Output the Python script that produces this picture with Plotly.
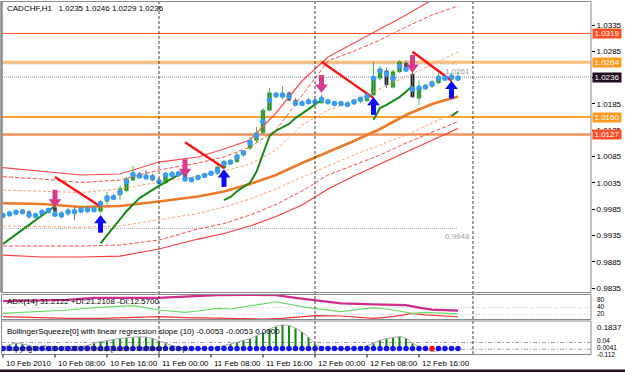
import plotly.graph_objects as go

W, H = 625, 372

# ---------------- data ----------------
bars = list(range(71))
opens = [0.9972, 0.9974, 0.9976, 0.9980, 0.9980, 0.9974, 0.9974, 0.9978, 0.9988, 0.9978,
         0.9976, 0.9981, 0.9981, 0.9985, 0.9983, 0.9981, 1.0000, 1.0008, 1.0012, 1.0020,
         1.0040, 1.0053, 1.0048, 1.0048, 1.0040, 1.0035, 1.0052, 1.0050, 1.0052, 1.0042,
         1.0042, 1.0046, 1.0050, 1.0053, 1.0063, 1.0072, 1.0075, 1.0088, 1.0101, 1.0116,
         1.0130, 1.0173, 1.0204, 1.0198, 1.0206, 1.0192, 1.0187, 1.0187, 1.0189, 1.0187,
         1.0192, 1.0189, 1.0186, 1.0186, 1.0185, 1.0190, 1.0191, 1.0202, 1.0234, 1.0248,
         1.0217, 1.0246, 1.0263, 1.0242, 1.0196, 1.0215, 1.0219, 1.0225, 1.0238, 1.0232,
         1.0235]
closes = [0.9974, 0.9976, 0.9980, 0.9979, 0.9974, 0.9973, 0.9978, 0.9982, 0.9980, 0.9974,
          0.9982, 0.9980, 0.9987, 0.9984, 0.9986, 0.9999, 1.0010, 1.0007, 1.0024, 1.0043,
          1.0054, 1.0048, 1.0046, 1.0040, 1.0036, 1.0052, 1.0051, 1.0053, 1.0042, 1.0041,
          1.0046, 1.0050, 1.0054, 1.0065, 1.0073, 1.0075, 1.0088, 1.0094, 1.0116, 1.0130,
          1.0173, 1.0206, 1.0200, 1.0204, 1.0192, 1.0187, 1.0186, 1.0191, 1.0190, 1.0195,
          1.0189, 1.0186, 1.0187, 1.0184, 1.0190, 1.0194, 1.0202, 1.0234, 1.0251, 1.0221,
          1.0246, 1.0265, 1.0251, 1.0198, 1.0215, 1.0217, 1.0227, 1.0238, 1.0234, 1.0236,
          1.0236]
highs = [0.9978, 0.9980, 0.9983, 0.9983, 0.9983, 0.9978, 0.9981, 0.9987, 0.9993, 0.9981,
         0.9987, 0.9989, 0.9991, 0.9991, 0.9991, 1.0002, 1.0018, 1.0014, 1.0029, 1.0046,
         1.0067, 1.0055, 1.0059, 1.0052, 1.0044, 1.0055, 1.0057, 1.0057, 1.0055, 1.0046,
         1.0050, 1.0054, 1.0057, 1.0069, 1.0078, 1.0080, 1.0094, 1.0097, 1.0122, 1.0141,
         1.0177, 1.0215, 1.0208, 1.0219, 1.0209, 1.0196, 1.0192, 1.0196, 1.0194, 1.0202,
         1.0194, 1.0190, 1.0190, 1.0189, 1.0192, 1.0198, 1.0206, 1.0265, 1.0257, 1.0253,
         1.0250, 1.0268, 1.0268, 1.0246, 1.0230, 1.0223, 1.0230, 1.0244, 1.0240, 1.0244,
         1.0246]
lows = [0.9968, 0.9970, 0.9974, 0.9976, 0.9966, 0.9968, 0.9972, 0.9977, 0.9976, 0.9968,
        0.9972, 0.9964, 0.9980, 0.9978, 0.9980, 0.9978, 0.9993, 1.0002, 1.0002, 1.0017,
        1.0038, 1.0044, 1.0042, 1.0038, 1.0033, 1.0033, 1.0046, 1.0046, 1.0040, 1.0038,
        1.0040, 1.0044, 1.0048, 1.0050, 1.0061, 1.0069, 1.0073, 1.0084, 1.0097, 1.0111,
        1.0126, 1.0171, 1.0196, 1.0194, 1.0190, 1.0181, 1.0181, 1.0185, 1.0185, 1.0185,
        1.0185, 1.0183, 1.0183, 1.0181, 1.0183, 1.0187, 1.0189, 1.0200, 1.0230, 1.0215,
        1.0215, 1.0244, 1.0246, 1.0196, 1.0183, 1.0211, 1.0215, 1.0223, 1.0230, 1.0227,
        1.0229]
dots = [0.9973, 0.9976, 0.9979, 0.9980, 0.9974, 0.9973, 0.9979, 0.9983, 0.9975, 0.9974,
        0.9980, 0.9980, 0.9983, 0.9984, 0.9984, 0.9995, 1.0006, 1.0007, 1.0017, 1.0037,
        1.0051, 1.0048, 1.0046, 1.0045, 1.0037, 1.0050, 1.0051, 1.0052, 1.0042, 1.0041,
        1.0045, 1.0049, 1.0053, 1.0059, 1.0072, 1.0074, 1.0084, 1.0092, 1.0111, 1.0125,
        1.0151, 1.0192, 1.0202, 1.0202, 1.0199, 1.0186, 1.0186, 1.0189, 1.0189, 1.0194,
        1.0189, 1.0186, 1.0186, 1.0184, 1.0189, 1.0194, 1.0199, 1.0234, 1.0248, 1.0242,
        1.0234, 1.0256, 1.0251, 1.0213, 1.0215, 1.0217, 1.0223, 1.0234, 1.0234, 1.0236,
        1.0234]

# channel / band lines sampled at these bars
band_x = [0, 6, 12, 18, 24, 30, 34, 38, 42, 46, 50, 54, 58, 62, 66, 70]
band_mid = [0.9996, 0.99947, 0.9989, 0.99909, 0.99994, 1.00089, 1.00185, 1.00327, 1.00498,
            1.00726, 1.00935, 1.01144, 1.01373, 1.01639, 1.01848, 1.0199]
band_up3 = [1.00637, 1.00574, 1.00498, 1.00517, 1.00745, 1.0084, 1.00993, 1.01163, 1.01677,
            1.02285, 1.02742, 1.03008, 1.03274, 1.0354, 1.03825, 1.03977]
band_up2 = [1.00466, 1.00422, 1.00355, 1.00403, 1.00593, 1.00726, 1.0084, 1.0103, 1.01354,
            1.02, 1.02665, 1.02855, 1.03065, 1.03312, 1.0354, 1.03711]
band_up1 = [1.00213, 1.00194, 1.00166, 1.00232, 1.00365, 1.00479, 1.00574, 1.00707, 1.00973,
            1.01449, 1.01734, 1.01905, 1.02133, 1.02361, 1.02599, 1.02837]
band_dn1 = [0.99529, 0.99519, 0.99504, 0.99529, 0.99643, 0.99767, 0.9989, 1.00042, 1.00232,
            1.0046, 1.00669, 1.00878, 1.01068, 1.01259, 1.01487, 1.01705]
band_dn2 = [0.99148, 0.99148, 0.99148, 0.99167, 0.99263, 0.99471, 0.99576, 0.99738, 0.99937,
            1.00194, 1.00498, 1.00688, 1.00878, 1.01106, 1.01316, 1.01515]
band_dn3 = [0.98977, 0.98939, 0.98939, 0.98958, 0.99091, 0.99281, 0.99386, 0.99529, 0.99709,
            0.99928, 1.00232, 1.00479, 1.00707, 1.00935, 1.01163, 1.01382]

# green trend segments
green_segments = [
    ([0, 8], [0.9919, 0.9991]),
    ([15, 17, 19, 21, 24, 27, 28], [0.9920, 0.9951, 0.9981, 1.0006, 1.0029, 1.0050, 1.0055]),
    (list(range(34, 50)), [1.0002, 1.0008, 1.0019, 1.0027, 1.0035, 1.0056, 1.0092, 1.0124,
                           1.0134, 1.0141, 1.0147, 1.0158, 1.0166, 1.0175, 1.0184, 1.0192]),
    (list(range(57, 64)), [1.0155, 1.0177, 1.0183, 1.0191, 1.0198, 1.0208, 1.0219]),
    ([69, 70], [1.0162, 1.0171]),
]
# red falling lines
red_x0 = [8, 28, 49, 63]
red_y0 = [1.0046, 1.0112, 1.0265, 1.0284]
red_x1 = [15, 34, 57, 69]
red_y1 = [0.9990, 1.0063, 1.0196, 1.0229]
# signal arrows (tip price)
down_bars = [8, 28, 49, 63]
down_tips = [0.9988, 1.0046, 1.0206, 1.0244]
up_bars = [15, 34, 57, 69]
up_tips = [0.9974, 1.0061, 1.0198, 1.0229]

# horizontal levels
lvl_1 = 1.0319
lvl_2 = 1.0264
lvl_bid = 1.0236
lvl_3 = 1.0160
lvl_4 = 1.0127
range_hi = 1.0261
range_lo = 0.9948

price_ticks = [1.0335, 1.0285, 1.0235, 1.0185, 1.0135, 1.0085, 1.0035, 0.9985, 0.9935, 0.9885, 0.9835]
hidden_ticks = [1.0235]  # covered by the bid box

# ADX(14)
adx_x = [0, 5, 10, 14, 20, 24, 27, 30, 33, 38, 42, 45, 48, 52, 57, 62, 64, 66, 70]
adx_v = [60, 61, 64, 70, 70, 70, 73, 76, 78, 79, 78, 70, 63, 53, 50, 48, 40, 34, 31.2]
pdi_x = [0, 5, 10, 14, 20, 24, 28, 30, 33, 35, 40, 42, 46, 48, 52, 57, 60, 63, 65, 70]
pdi_v = [23, 28, 33, 40, 46, 33, 26, 30, 38, 36, 53, 58, 43, 37, 28, 40, 33, 23, 26, 21.2]
mdi_x = [0, 5, 10, 15, 20, 24, 28, 35, 40, 43, 46, 48, 52, 57, 60, 63, 65, 70]
mdi_v = [12.7, 9.7, 7.9, 7.9, 10, 12.7, 9.7, 7.9, 5.8, 7.9, 12, 15.8, 14.8, 7.9, 12.7, 23, 18, 12.57]

# Bollinger squeeze histogram
squeeze = [0.005, 0.025, 0.035, 0.03, 0.02, 0.008, 0, 0, 0, 0, 0, 0,
           0.01, 0.02, 0.035, 0.045, 0.053, 0.06, 0.066, 0.071, 0.075, 0.078, 0.076, 0.068,
           0.05, 0.035, 0.02, 0.008, 0, 0, 0, 0, 0,
           0.01, 0.02, 0.03, 0.042, 0.055, 0.065, 0.085, 0.105, 0.13, 0.147, 0.157, 0.153,
           0.135, 0.11, 0.075, 0.03, 0.01, 0, 0, 0, 0, 0,
           0.005, 0.02, 0.035, 0.055, 0.065, 0.072, 0.079, 0.068, 0.035, 0.012, -0.005,
           -0.02, -0.015, -0.005, 0, 0]
squeeze_on = [66]

day_lines = [24, 48, 72.3]
time_ticks = [0, 8, 16, 24, 32, 40, 48, 56, 64]
time_labels = ["10 Feb 2010", "10 Feb 08:00", "10 Feb 16:00", "11 Feb 00:00", "11 Feb 08:00",
               "11 Feb 16:00", "12 Feb 00:00", "12 Feb 08:00", "12 Feb 16:00"]

# ---------------- layout helpers ----------------
FONT = "Liberation Sans, Arial, sans-serif"
BAR_PX = 6.5
X0 = (2 - 3) / BAR_PX
X1 = (591 - 3) / BAR_PX
Y_TOP = 1.038253 - 0.00019011 * 2
Y_BOT = 1.038253 - 0.00019011 * 292
PPP = (Y_TOP - Y_BOT) / 290.0


def fx(px):
    return px / W


def fy(py):
    return 1 - py / H


fig = go.Figure()

# bands
band_styles = [
    (band_up3, "#FF4A4A", 1.2, "solid"),
    (band_up2, "#FF4A4A", 1.0, "4px,2px"),
    (band_up1, "#FFA070", 1.0, "3px,2px"),
    (band_mid, "#EE7A28", 2.6, "solid"),
    (band_dn1, "#FFA070", 1.0, "3px,2px"),
    (band_dn2, "#FF4A4A", 1.0, "4px,2px"),
    (band_dn3, "#FF3A3A", 1.2, "solid"),
]
for vals, col, wd, ds in band_styles:
    fig.add_trace(go.Scatter(x=band_x, y=vals, mode="lines",
                             line=dict(color=col, width=wd, dash=ds), hoverinfo="skip"))

# candles: wicks
bull = [c >= o for o, c in zip(opens, closes)]
for flag, col in [(True, "#4DB84D"), (False, "#707070")]:
    wx, wy = [], []
    for i in bars:
        if bull[i] == flag:
            wx += [i, i, None]
            wy += [lows[i], highs[i], None]
    fig.add_trace(go.Scatter(x=wx, y=wy, mode="lines", line=dict(color=col, width=1),
                             hoverinfo="skip"))
# candles: bodies
for flag, fill, edge in [(True, "#1E8C1E", "#1E8C1E"), (False, "#101018", "#9090A0")]:
    bx, bb, bh = [], [], []
    for i in bars:
        if bull[i] == flag:
            lo_, hi_ = min(opens[i], closes[i]), max(opens[i], closes[i])
            bx.append(i)
            bb.append(lo_)
            bh.append(max(hi_ - lo_, 0.00022))
    fig.add_trace(go.Bar(x=bx, y=bh, base=bb, width=0.55,
                         marker=dict(color=fill, line=dict(color=edge, width=0.6)),
                         hoverinfo="skip"))

# green trend lines
for gx, gy in green_segments:
    fig.add_trace(go.Scatter(x=gx, y=gy, mode="lines", line=dict(color="#168A16", width=2),
                             hoverinfo="skip"))
# red lines
for a, b, c, d in zip(red_x0, red_y0, red_x1, red_y1):
    fig.add_trace(go.Scatter(x=[a, c], y=[b, d], mode="lines",
                             line=dict(color="#FF1010", width=2.4), hoverinfo="skip"))

# blue dots
fig.add_trace(go.Scatter(x=bars, y=dots, mode="markers",
                         marker=dict(color="#3A9BF5", size=5.5, line=dict(width=0)),
                         hoverinfo="skip"))

# arrows
PINK = "#D8388E"
BLUE = "#0A0AFF"
fig.add_trace(go.Scatter(x=down_bars, y=[t + 12.2 * PPP for t in down_tips], mode="markers",
                         marker=dict(symbol="line-ns", size=8, line=dict(color=PINK, width=5)),
                         hoverinfo="skip"))
fig.add_trace(go.Scatter(x=down_bars, y=[t + 5.5 * PPP for t in down_tips], mode="markers",
                         marker=dict(symbol="triangle-down", size=11, color=PINK, line=dict(width=0)),
                         hoverinfo="skip"))
fig.add_trace(go.Scatter(x=up_bars, y=[t - 12.2 * PPP for t in up_tips], mode="markers",
                         marker=dict(symbol="line-ns", size=8, line=dict(color=BLUE, width=5)),
                         hoverinfo="skip"))
fig.add_trace(go.Scatter(x=up_bars, y=[t - 5.5 * PPP for t in up_tips], mode="markers",
                         marker=dict(symbol="triangle-up", size=11, color=BLUE, line=dict(width=0)),
                         hoverinfo="skip"))

# ADX pane
for xs, vs, col, wd in [(mdi_x, mdi_v, "#FF3333", 1.2), (pdi_x, pdi_v, "#66DD66", 1.2),
                        (adx_x, adx_v, "#D02A8E", 2.2)]:
    fig.add_trace(go.Scatter(x=xs, y=vs, mode="lines", line=dict(color=col, width=wd),
                             xaxis="x", yaxis="y2", hoverinfo="skip"))

# Squeeze pane
fig.add_trace(go.Bar(x=bars, y=squeeze, width=0.32,
                     marker=dict(color=["#138A13" if v >= 0 else "#FF2020" for v in squeeze],
                                 line=dict(width=0)),
                     xaxis="x", yaxis="y3", hoverinfo="skip"))
fig.add_trace(go.Scatter(x=bars, y=squeeze, mode="lines", line=dict(color="#A8A8B0", width=1, shape="spline"),
                         xaxis="x", yaxis="y3", hoverinfo="skip"))
fig.add_trace(go.Scatter(x=bars, y=[0] * len(bars), mode="markers",
                         marker=dict(size=5.5, color=["#FF0000" if i in squeeze_on else "#1010FF" for i in bars],
                                     line=dict(width=0)),
                         xaxis="x", yaxis="y3", hoverinfo="skip"))

shapes = []
# horizontal price levels
XL, XR = fx(2), fx(591)
shapes += [
    dict(type="line", xref="paper", yref="y", x0=XL, x1=XR, y0=lvl_1, y1=lvl_1,
         line=dict(color="#FF4A1A", width=1), layer="below"),
    dict(type="line", xref="paper", yref="y", x0=XL, x1=XR, y0=lvl_2, y1=lvl_2,
         line=dict(color="#FFBE78", width=3), layer="below"),
    dict(type="line", xref="x", yref="y", x0=X0, x1=70, y0=range_hi, y1=range_hi,
         line=dict(color="#B0B0B0", width=1, dash="1px,1px"), layer="below"),
    dict(type="line", xref="paper", yref="y", x0=XL, x1=XR, y0=lvl_bid, y1=lvl_bid,
         line=dict(color="#7F8CA8", width=1, dash="1px,1px"), layer="below"),
    dict(type="line", xref="paper", yref="y", x0=XL, x1=XR, y0=lvl_3, y1=lvl_3,
         line=dict(color="#FFA030", width=2), layer="below"),
    dict(type="line", xref="paper", yref="y", x0=XL, x1=XR, y0=lvl_4, y1=lvl_4,
         line=dict(color="#F8905A", width=2.5), layer="below"),
    dict(type="line", xref="x", yref="y", x0=X0, x1=70, y0=range_lo, y1=range_lo,
         line=dict(color="#B0B0B0", width=1, dash="1px,1px"), layer="below"),
]
# ADX levels and squeeze levels
for v in [40, 20]:
    shapes.append(dict(type="line", xref="paper", yref="y2", x0=XL, x1=XR, y0=v, y1=v,
                       line=dict(color="#C8C8C8", width=1, dash="1px,2px"), layer="below"))
for v in [0.04, -0.005]:
    shapes.append(dict(type="line", xref="paper", yref="y3", x0=XL, x1=XR, y0=v, y1=v,
                       line=dict(color="#A0A0A0", width=1, dash="4px,2px,1px,2px"), layer="below"))
# day separators
for d in day_lines:
    shapes.append(dict(type="line", xref="x", yref="paper", x0=d, x1=d, y0=fy(354), y1=fy(2),
                       line=dict(color="#404040", width=1, dash="3px,2px")))
# pane frames
for top, bot in [(1.5, 292.5), (294.5, 319.5), (321, 354.5)]:
    shapes.append(dict(type="rect", xref="paper", yref="paper", x0=fx(1.5), x1=fx(591),
                       y0=fy(bot), y1=fy(top), line=dict(color="#8A8A8A", width=1)))
shapes.append(dict(type="line", xref="paper", yref="paper", x0=fx(1.5), x1=fx(1.5),
                   y0=fy(292.5), y1=fy(1), line=dict(color="#8A8A8A", width=2.5)))
# time ticks
for t in time_ticks:
    shapes.append(dict(type="line", xref="x", yref="paper", x0=t, x1=t, y0=fy(357.5), y1=fy(354.5),
                       line=dict(color="#000000", width=1)))
# bottom strip
shapes.append(dict(type="rect", xref="paper", yref="paper", x0=0, x1=1, y0=0, y1=fy(369.5),
                   line=dict(width=0), fillcolor="#2A1028"))

ann = []
SMALL = dict(family=FONT, size=8, color="#000000")
TINY = dict(family=FONT, size=6.5, color="#000000")
ann.append(dict(xref="paper", yref="paper", x=fx(5), y=fy(9), xanchor="left", yanchor="middle",
                text="CADCHF,H1\u00a0\u00a0 1.0235 1.0246 1.0229 1.0236", showarrow=False, font=SMALL))
ann.append(dict(xref="paper", yref="paper", x=fx(5), y=fy(301.5), xanchor="left", yanchor="middle",
                text="ADX(14) 31.2122 +DI:21.2108 -DI:12.5700", showarrow=False, font=SMALL))
ann.append(dict(xref="paper", yref="paper", x=fx(5), y=fy(331.5), xanchor="left", yanchor="middle",
                text="BollingerSqueeze[0] with linear regression slope (10) -0.0053 -0.0053 0.0000",
                showarrow=False, font=SMALL))
ann.append(dict(xref="paper", yref="paper", x=fx(3), y=fy(348.5), xanchor="left", yanchor="middle",
                text="Copyright \u00a9 2001-2009 MetaQuotes Software Corp.", showarrow=False,
                font=dict(family=FONT, size=8, color="#202020")))
# range labels
for val, txt in [(range_hi, "1.0261"), (range_lo, "0.9948")]:
    ann.append(dict(xref="x", yref="y", x=72.2, y=val, xanchor="right", yanchor="top", yshift=-1,
                    text=txt, showarrow=False, font=dict(family=FONT, size=8, color="#A0A0A0")))
# right axis level boxes
for val, bg in [(lvl_1, "#FF4E1E"), (lvl_2, "#FF9A1E"), (lvl_bid, "#1E0E1E"),
                (lvl_3, "#FF9A1E"), (lvl_4, "#FF4E2A")]:
    ann.append(dict(xref="paper", yref="y", x=fx(592), y=val, xanchor="left", yanchor="middle",
                    text="%.4f" % val, showarrow=False, bgcolor=bg, borderpad=0, width=28, height=9,
                    font=dict(family=FONT, size=8, color="#FFFFFF")))
# sub pane labels
for py, txt, f in [(299.5, "80", TINY), (306.3, "40", TINY), (313.3, "20", TINY),
                   (327.5, "0.1837", SMALL), (340.6, "0.04", TINY),
                   (347.4, "0.0041", TINY), (354.2, "-0.112", TINY)]:
    ann.append(dict(xref="paper", yref="paper", x=fx(596), y=fy(py), xanchor="left", yanchor="middle",
                    text=txt, showarrow=False, font=f, borderpad=0))
# time labels
for t, lab in zip(time_ticks, time_labels):
    ann.append(dict(xref="x", yref="paper", x=t, y=fy(363.5), xanchor="left", yanchor="middle",
                    xshift=1, text=lab, showarrow=False, font=SMALL))

fig.update_layout(
    width=W, height=H, margin=dict(l=0, r=0, t=0, b=0),
    paper_bgcolor="#FFFFFF", plot_bgcolor="#FFFFFF",
    showlegend=False, barmode="overlay", font=dict(family=FONT, size=8),
    shapes=shapes, annotations=ann,
    xaxis=dict(domain=[fx(2), fx(591)], range=[X0, X1], showgrid=False, zeroline=False,
               showticklabels=False, ticks="", showline=False, anchor="y3"),
    yaxis=dict(domain=[fy(292), fy(2)], range=[Y_BOT, Y_TOP], side="right", anchor="x",
               tickvals=price_ticks,
               ticktext=["" if v in hidden_ticks else "%.4f" % v for v in price_ticks],
               ticks="outside", ticklen=3, tickcolor="#000000", showgrid=False, zeroline=False,
               showline=False, tickfont=dict(family=FONT, size=8, color="#000000")),
    yaxis2=dict(domain=[fy(319), fy(295)], range=[5.76, 78.5], anchor="x", showgrid=False,
                zeroline=False, showticklabels=False, ticks=""),
    yaxis3=dict(domain=[fy(354), fy(321)], range=[-0.0367, 0.1833], anchor="x", showgrid=False,
                zeroline=False, showticklabels=False, ticks=""),
)

fig.write_html("out.html")
